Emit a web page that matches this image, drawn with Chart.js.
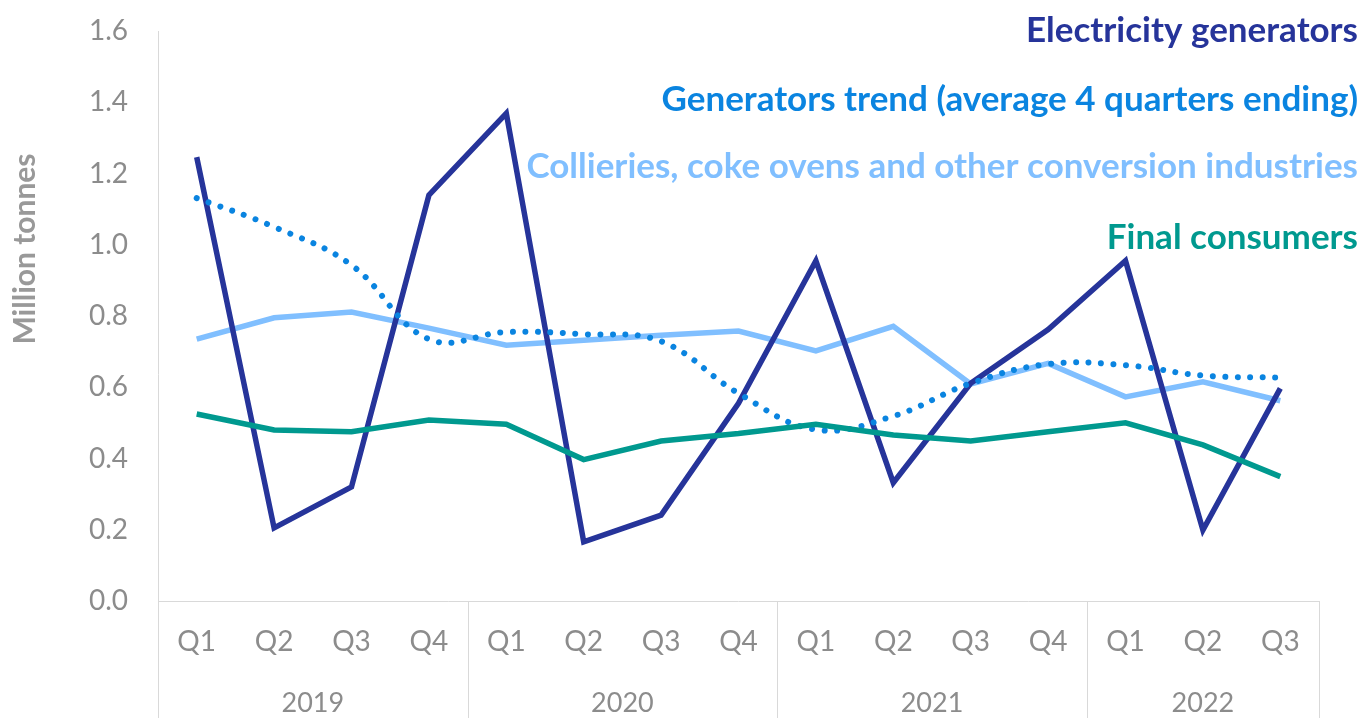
<!DOCTYPE html>
<html>
<head>
<meta charset="utf-8">
<script src="https://cdn.jsdelivr.net/npm/chart.js@4.4.1/dist/chart.umd.min.js"></script>
<style>
  html, body { margin: 0; padding: 0; background: #fff; }
  #wrap { width: 1364px; height: 718px; }
</style>
</head>
<body>
<div id="wrap"><canvas id="chart" width="1364" height="718"></canvas></div>
<script>
// quarterly coal consumption, million tonnes
const quarters = ['Q1', 'Q2', 'Q3', 'Q4', 'Q1', 'Q2', 'Q3', 'Q4', 'Q1', 'Q2', 'Q3', 'Q4', 'Q1', 'Q2', 'Q3'];
const years = ['2019', '2020', '2021', '2022'];
const quartersPerYear = [4, 4, 4, 3];

const generators = [1.246, 0.205, 0.320, 1.139, 1.369, 0.166, 0.241, 0.555, 0.955, 0.332, 0.611, 0.762, 0.955, 0.199, 0.597];
const generatorsTrend = [1.131, 1.050, 0.943, 0.735, 0.755, 0.749, 0.729, 0.583, 0.481, 0.519, 0.611, 0.665, 0.662, 0.633, 0.627];
const collieries = [0.735, 0.795, 0.811, 0.766, 0.718, 0.732, 0.746, 0.758, 0.702, 0.771, 0.609, 0.667, 0.573, 0.615, 0.562];
const finalConsumers = [0.525, 0.480, 0.475, 0.508, 0.496, 0.397, 0.449, 0.470, 0.496, 0.466, 0.449, 0.475, 0.500, 0.438, 0.349];

const seriesNames = [
  'Electricity generators',
  'Generators trend (average 4 quarters ending)',
  'Collieries, coke ovens and other conversion industries',
  'Final consumers'
];
const yMin = 0, yMax = 1.6, yStep = 0.2;

const FONT = 'Lato, "Open Sans", sans-serif';
const GREY = '#8c8c8c';
const LINE_GREY = '#d9d9d9';
const colors = {
  generators: '#26349a',
  trend: '#0a84e0',
  collieries: '#80bfff',
  final: '#00998f'
};

// axis lines, year groups, y title and the coloured series labels
const frame = {
  id: 'frame',
  beforeDatasetsDraw(chart) {
    const { ctx, chartArea: a, scales: { x } } = chart;
    const h = chart.height;
    const half = (x.getPixelForValue(1) - x.getPixelForValue(0)) / 2;
    ctx.save();
    ctx.strokeStyle = LINE_GREY;
    ctx.lineWidth = 1;
    ctx.beginPath();
    ctx.moveTo(a.left + 0.5, a.top);
    ctx.lineTo(a.left + 0.5, h);
    ctx.moveTo(a.left, a.bottom + 0.5);
    ctx.lineTo(a.right, a.bottom + 0.5);
    let idx = 0;
    quartersPerYear.forEach(n => {
      idx += n;
      const px = Math.round(x.getPixelForValue(idx - 1) + half) + 0.5;
      ctx.moveTo(px, a.bottom);
      ctx.lineTo(px, h);
    });
    ctx.stroke();
    ctx.restore();
  },
  afterDraw(chart) {
    const { ctx, scales: { x } } = chart;
    ctx.save();
    // year labels under each group of quarters
    ctx.fillStyle = GREY;
    ctx.font = '27px ' + FONT;
    ctx.textAlign = 'center';
    ctx.textBaseline = 'alphabetic';
    let idx = 0;
    years.forEach((yr, i) => {
      const first = x.getPixelForValue(idx);
      const last = x.getPixelForValue(idx + quartersPerYear[i] - 1);
      ctx.fillText(yr, (first + last) / 2, 712);
      idx += quartersPerYear[i];
    });
    // y axis title
    ctx.save();
    ctx.translate(35, 249);
    ctx.rotate(-Math.PI / 2);
    ctx.font = 'bold 30px ' + FONT;
    ctx.fillStyle = '#999999';
    ctx.fillText('Million tonnes', 0, 0);
    ctx.restore();
    // series labels, right aligned
    ctx.textAlign = 'right';
    ctx.font = 'bold 35px ' + FONT;
    const labelColors = [colors.generators, colors.trend, colors.collieries, colors.final];
    const baselines = [42, 111, 178, 249];
    seriesNames.forEach((name, i) => {
      ctx.fillStyle = labelColors[i];
      ctx.fillText(name, 1358, baselines[i]);
    });
    ctx.restore();
  }
};

new Chart(document.getElementById('chart'), {
  type: 'line',
  data: {
    labels: quarters,
    datasets: [
      {
        label: seriesNames[0], data: generators, borderColor: colors.generators,
        borderWidth: 5.5, pointRadius: 0, order: 2, borderJoinStyle: 'miter'
      },
      {
        label: seriesNames[1], data: generatorsTrend, borderColor: colors.trend,
        borderWidth: 6, pointRadius: 0, order: 1, tension: 0.4,
        borderDash: [0.01, 12.5], borderCapStyle: 'round'
      },
      {
        label: seriesNames[2], data: collieries, borderColor: colors.collieries,
        borderWidth: 5.5, pointRadius: 0, order: 3
      },
      {
        label: seriesNames[3], data: finalConsumers, borderColor: colors.final,
        borderWidth: 5.5, pointRadius: 0, order: 0
      }
    ]
  },
  options: {
    responsive: false,
    animation: false,
    devicePixelRatio: 1,
    layout: { padding: { top: 31, right: 45, left: 0, bottom: 0 } },
    plugins: { legend: { display: false }, tooltip: { enabled: false } },
    scales: {
      x: {
        offset: true,
        grid: { display: false, drawTicks: false },
        border: { display: false },
        ticks: { color: GREY, font: { family: FONT, size: 28 }, padding: 24, maxRotation: 0, autoSkip: false },
        afterFit(scale) {
          scale.height = 117;
          scale.paddingLeft = 0;
          scale.paddingRight = 0;
        }
      },
      y: {
        min: yMin,
        max: yMax,
        grid: { display: false, drawTicks: false },
        border: { display: false },
        ticks: {
          stepSize: yStep,
          color: GREY,
          font: { family: FONT, size: 28 },
          padding: 30,
          callback: v => v.toFixed(1)
        },
        afterFit(scale) {
          scale.width = 158;
          scale.paddingTop = 0;
          scale.paddingBottom = 0;
        }
      }
    }
  },
  plugins: [frame]
});
</script>
</body>
</html>
